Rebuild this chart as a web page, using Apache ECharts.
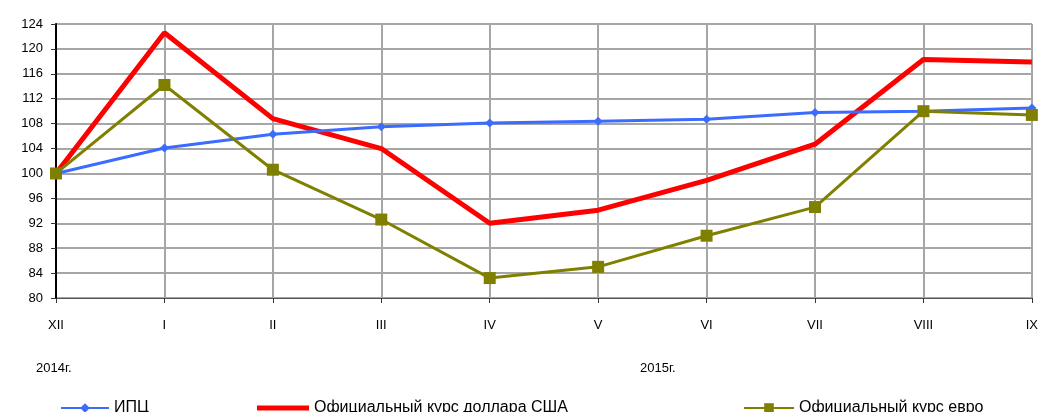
<!DOCTYPE html>
<html>
<head>
<meta charset="utf-8">
<script src="https://cdn.jsdelivr.net/npm/echarts@6/dist/echarts.min.js"></script>
<style>
  html, body { margin: 0; padding: 0; background: #fff; }
  #chart { width: 1041px; height: 412px; }
</style>
</head>
<body>
<div id="chart"></div>
<script>
(function(){
    // месяцы (дек 2014 - сен 2015)
    var months = ['XII', 'I', 'II', 'III', 'IV', 'V', 'VI', 'VII', 'VIII', 'IX'];
    var yTicks = [80, 84, 88, 92, 96, 100, 104, 108, 112, 116, 120, 124];

    var cpi = [100, 104.1, 106.3, 107.5, 108.1, 108.4, 108.7, 109.8, 110.0, 110.5];
    var usd = [100, 122.6, 108.8, 104.0, 92.0, 94.1, 98.9, 104.7, 118.3, 117.9];
    var eur = [100, 114.2, 100.6, 92.6, 83.2, 85.0, 90.0, 94.6, 110.0, 109.4];

    var chart = echarts.init(document.getElementById('chart'));
    var font = 'Liberation Sans, Arial, sans-serif';
    var legendText = { fontSize: 16, color: '#000', fontFamily: font };

    var option = {
        animation: false,
        textStyle: { fontFamily: font },
        grid: { left: 56, right: 8, top: 24, bottom: 114 },
        legend: [
            { data: ['ИПЦ'], left: 55, top: 395, itemWidth: 48, itemHeight: 12,
              textStyle: legendText },
            { data: [{ name: 'Официальный курс доллара США', icon: 'rect' }], left: 252, top: 395,
              itemWidth: 52, itemHeight: 5, textStyle: legendText },
            { data: ['Официальный курс евро'], left: 738, top: 395, itemWidth: 50, itemHeight: 12,
              textStyle: legendText }
        ],
        xAxis: {
            type: 'category',
            data: months,
            boundaryGap: false,
            axisLine: { lineStyle: { color: '#555', width: 1 } },
            axisTick: { show: true, length: 5, lineStyle: { color: '#333' } },
            axisLabel: { color: '#000', fontSize: 13, margin: 21, fontFamily: font },
            splitLine: { show: true, lineStyle: { color: '#a6a6a6', width: 2 } }
        },
        yAxis: {
            type: 'value',
            min: yTicks[0],
            max: yTicks[yTicks.length - 1],
            interval: 4,
            axisLine: { show: true, lineStyle: { color: '#000', width: 2 } },
            axisTick: { show: true, length: 5, lineStyle: { color: '#333' } },
            axisLabel: { color: '#000', fontSize: 13, margin: 13, fontFamily: font },
            splitLine: { show: true, lineStyle: { color: '#a6a6a6', width: 2 } }
        },
        series: [
            {
                name: 'ИПЦ',
                type: 'line',
                data: cpi,
                symbol: 'diamond',
                symbolSize: 9,
                lineStyle: { color: '#3b6bff', width: 3 },
                itemStyle: { color: '#3b6bff' },
                z: 3
            },
            {
                name: 'Официальный курс доллара США',
                type: 'line',
                data: usd,
                symbol: 'none',
                lineStyle: { color: '#ff0000', width: 5 },
                itemStyle: { color: '#ff0000' },
                z: 2
            },
            {
                name: 'Официальный курс евро',
                type: 'line',
                data: eur,
                symbol: 'rect',
                symbolSize: 12,
                lineStyle: { color: '#808000', width: 3 },
                itemStyle: { color: '#808000' },
                z: 4
            }
        ],
        graphic: [
            { type: 'text', left: 36, top: 362, style: { text: '2014г.', fontSize: 13, fill: '#000', fontFamily: font } },
            { type: 'text', left: 640, top: 362, style: { text: '2015г.', fontSize: 13, fill: '#000', fontFamily: font } }
        ]
    };

    chart.setOption(option);
})();
</script>
</body>
</html>
